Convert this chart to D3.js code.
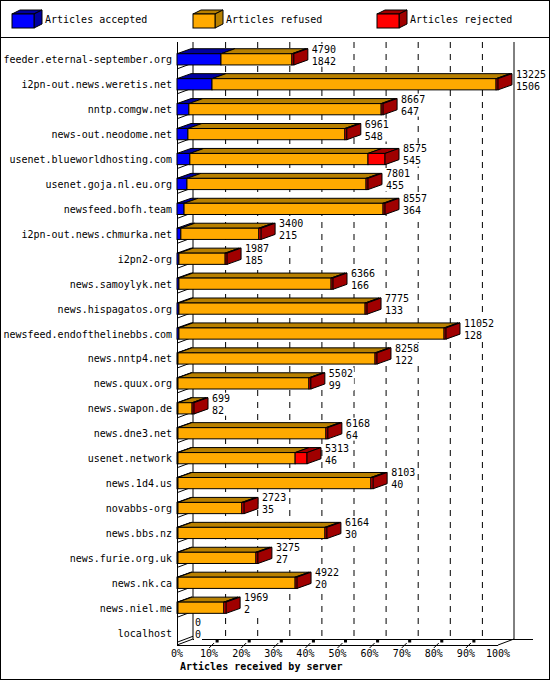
<!DOCTYPE html>
<html><head><meta charset="utf-8">
<script src="https://cdn.jsdelivr.net/npm/d3@7"></script>
<style>body{margin:0;background:#fff}text{font-family:"DejaVu Sans Mono",monospace;font-size:10px}</style>
</head><body>
<svg id="chart" width="550" height="680"></svg>
<script>
const servers = ["feeder.eternal-september.org","i2pn-out.news.weretis.net","nntp.comgw.net","news-out.neodome.net",
  "usenet.blueworldhosting.com","usenet.goja.nl.eu.org","newsfeed.bofh.team","i2pn-out.news.chmurka.net","i2pn2-org",
  "news.samoylyk.net","news.hispagatos.org","newsfeed.endofthelinebbs.com","news.nntp4.net","news.quux.org",
  "news.swapon.de","news.dne3.net","usenet.network","news.1d4.us","novabbs-org","news.bbs.nz","news.furie.org.uk",
  "news.nk.ca","news.niel.me","localhost"];
// percent of scale at which each segment ends
const acceptedEnd = [13.7,10.9,3.7,3.4,4.0,3.1,2.2,1.2,0.6,0.6,0.6,0.6,0.3,0.3,0.3,0.3,0.3,0.3,0.3,0.3,0.3,0.3,0.3,0];
const refusedEnd  = [35.8,99.4,63.6,52.3,59.5,58.9,64.2,25.5,15.0,48.0,58.6,83.2,61.7,41.1,4.7,46.4,36.8,60.4,20.2,46.1,24.6,36.8,14.6,0];
const rejectedEnd = [36.4,100,64.2,52.9,64.8,59.5,64.8,26.2,15.6,48.6,59.2,83.8,62.3,41.7,5.3,47.0,40.5,61.1,20.9,46.7,25.2,37.4,15.3,0];
const offered  = [4790,13225,8667,6961,8575,7801,8557,3400,1987,6366,7775,11052,8258,5502,699,6168,5313,8103,2723,6164,3275,4922,1969,0];
const accepted = [1842,1506,647,548,545,455,364,215,185,166,133,128,122,99,82,64,46,40,35,30,27,20,2,0];
const ticks = [0,10,20,30,40,50,60,70,80,90,100];
const legend = [["Articles accepted","#0000ff","#0000a0"],["Articles refused","#ffaa00","#b88000"],["Articles rejected","#ff0000","#a00000"]];

const svg = d3.select("#chart");
const dx = 16, dy = -6;
const x = d3.scaleLinear().domain([0,100]).range([177,498]);
const y = d3.scaleBand().domain(servers).range([47,645]).paddingInner(0.47).paddingOuter(0.23);

svg.append("rect").attr("x",0.5).attr("y",0.5).attr("width",549).attr("height",679).attr("fill","none").attr("stroke","#000");
svg.append("line").attr("x1",0).attr("x2",550).attr("y1",37.5).attr("y2",37.5).attr("stroke","#000");

// legend
const lg = svg.append("g").selectAll("g").data(legend).join("g")
  .attr("transform",(d,i) => `translate(${[12,193,377][i]},10)`);
lg.append("path").attr("d","M0,4 L8,0 L30,0 L22,4Z").attr("fill",d=>d[2]).attr("stroke","#000");
lg.append("path").attr("d","M22,4 L30,0 L30,14 L22,18Z").attr("fill",d=>d[2]).attr("stroke","#000");
lg.append("rect").attr("x",0).attr("y",4).attr("width",22).attr("height",14).attr("fill",d=>d[1]).attr("stroke","#000");
lg.append("text").attr("x",33).attr("y",13).text(d=>d[0]);

// back wall, grid
const back = svg.append("g").attr("stroke","#000").attr("fill","none");
back.append("line").attr("x1",x(0)+dx).attr("x2",x(0)+dx).attr("y1",42).attr("y2",645+dy);
back.append("line").attr("x1",x(100)+dx).attr("x2",x(100)+dx).attr("y1",42).attr("y2",645+dy);
back.append("line").attr("x1",x(0)+dx).attr("x2",x(100)+dx+19).attr("y1",645+dy+0.5).attr("y2",645+dy+0.5);
back.selectAll(".g").data(ticks.slice(1,10)).join("line")
  .attr("x1",d=>x(d)+dx+0.5).attr("x2",d=>x(d)+dx+0.5).attr("y1",42).attr("y2",645+dy)
  .attr("stroke-dasharray","6,6");
// left axis and floor
back.append("line").attr("x1",x(0)+0.5).attr("x2",x(0)+0.5).attr("y1",42).attr("y2",645);
back.append("line").attr("x1",x(0)).attr("x2",x(100)).attr("y1",645.5).attr("y2",645.5);
back.append("line").attr("x1",x(0)).attr("x2",x(0)+dx).attr("y1",645).attr("y2",645+dy);
back.append("line").attr("x1",x(100)).attr("x2",x(100)+dx).attr("y1",645).attr("y2",645+dy);
back.selectAll(".t").data(ticks.slice(1,10)).join("line")
  .attr("x1",d=>x(d)).attr("x2",d=>x(d)+5).attr("y1",648).attr("y2",643);
back.selectAll(".m").data(ticks.slice(1,10)).join("rect")
  .attr("x",d=>x(d)+7).attr("y",640).attr("width",2).attr("height",2).attr("fill","#000");
back.selectAll(".r").data(servers).join("line")
  .attr("x1",x(0)).attr("x2",x(0)+dx).attr("y1",d=>y(d)+y.bandwidth()+3).attr("y2",d=>y(d)+y.bandwidth()+3+dy);

svg.append("g").selectAll("text").data(ticks).join("text")
  .attr("x",d=>x(d)).attr("y",657).attr("text-anchor","middle").text(d=>d+"%");
svg.append("text").attr("x",180).attr("y",670).attr("font-weight","bold").attr("font-size","11px").text("Articles received by server");

// names
svg.append("g").selectAll("text").data(servers).join("text")
  .attr("x",172).attr("y",d=>y(d)+y.bandwidth()/2+4).attr("text-anchor","end").text(d=>d);

// bars
const bdx = 14, bdy = -5;
function box(g, x0, x1, y0, h, c, dark, side) {
  if (x1 - x0 <= 0) return;
  g.append("path").attr("d",`M${x0},${y0} L${x0+bdx},${y0+bdy} L${x1+bdx},${y0+bdy} L${x1},${y0}Z`).attr("fill",dark).attr("stroke","#000");
  g.append("rect").attr("x",x0).attr("y",y0).attr("width",x1-x0).attr("height",h).attr("fill",c).attr("stroke","#000");
  if (side) g.append("path").attr("d",`M${x1},${y0} L${x1+bdx},${y0+bdy} L${x1+bdx},${y0+bdy+h} L${x1},${y0+h}Z`).attr("fill",side).attr("stroke","#000");
}
servers.forEach((s,i) => {
  const g = svg.append("g");
  const y0 = y(s) + 1, h = y.bandwidth() - 2;
  box(g, x(0), x(acceptedEnd[i]), y0, h, "#0000ff", "#0000a0", null);
  box(g, x(acceptedEnd[i]), x(refusedEnd[i]), y0, h, "#ffaa00", "#b88000", null);
  box(g, x(refusedEnd[i]), x(rejectedEnd[i]), y0, h, "#ff0000", "#a00000", "#a00000");
  const lx = x(rejectedEnd[i]) + bdx + 4;
  g.append("rect").attr("x",lx-1).attr("y",y0-10).attr("width",String(offered[i]).length*6+2).attr("height",23).attr("fill","#fff");
  g.append("text").attr("x",lx).attr("y",y0-1).text(offered[i]);
  g.append("text").attr("x",lx).attr("y",y0+11).text(accepted[i]);
});
</script>
</body></html>
